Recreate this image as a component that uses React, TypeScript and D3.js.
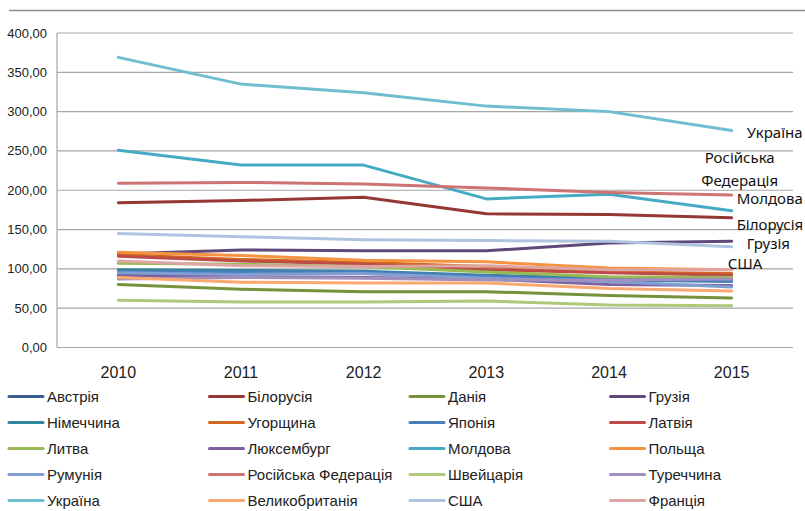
import React, { useRef, useEffect } from "react";
import * as d3 from "d3";

const years = ["2010", "2011", "2012", "2013", "2014", "2015"];
const yTicks = [0, 50, 100, 150, 200, 250, 300, 350, 400];

const countries = [
  "Австрія", "Білорусія", "Данія", "Грузія",
  "Німеччина", "Угорщина", "Японія", "Латвія",
  "Литва", "Люксембург", "Молдова", "Польща",
  "Румунія", "Російська Федерація", "Швейцарія", "Туреччина",
  "Україна", "Великобританія", "США", "Франція",
];

const colors = [
  "#3A5F8E", "#953735", "#76923C", "#5F497A",
  "#31859C", "#D2691E", "#4A7EBB", "#BE4B48",
  "#98B954", "#7D60A0", "#46AAC5", "#F69240",
  "#7F9ED1", "#CD7371", "#AFC97A", "#A18FBE",
  "#6FBDD1", "#F9A870", "#AFC3E0", "#DDA6A5",
];

const austria = [94, 94, 94, 91, 87, 85];
const belarus = [184, 187, 191, 170, 169, 165];
const denmark = [80, 74, 71, 71, 66, 63];
const georgia = [119, 124, 123, 123, 133, 135];
const germany = [99, 98, 97, 92, 88, 86];
const hungary = [118, 112, 108, 103, 96, 94];
const japan = [96, 96, 96, 91, 86, 84];
const latvia = [116, 110, 106, 99, 95, 92];
const lithuania = [107, 106, 103, 96, 90, 89];
const luxembourg = [92, 90, 89, 87, 80, 79];
const moldova = [251, 232, 232, 189, 195, 174];
const poland = [121, 117, 111, 109, 101, 99];
const romania = [95, 93, 94, 88, 84, 77];
const russia = [209, 210, 208, 203, 197, 194];
const switzerland = [60, 58, 58, 59, 54, 53];
const turkey = [87, 89, 88, 86, 86, 87];
const ukraine = [369, 335, 324, 307, 300, 276];
const uk = [89, 83, 82, 82, 75, 72];
const usa = [145, 141, 137, 136, 135, 128];
const france = [110, 104, 103, 104, 99, 99];

const seriesValues = [
  austria, belarus, denmark, georgia,
  germany, hungary, japan, latvia,
  lithuania, luxembourg, moldova, poland,
  romania, russia, switzerland, turkey,
  ukraine, uk, usa, france,
];

// end-of-line labels: series index, text lines, offset from last point
const endLabels = [
  { idx: 16, lines: ["Україна"], dx: 15, dy: 2, anchor: "start" },
  { idx: 13, lines: ["Російська", "Федерація"], dx: 8, dy: -37, anchor: "middle" },
  { idx: 10, lines: ["Молдова"], dx: 5, dy: -12, anchor: "start" },
  { idx: 1, lines: ["Білорусія"], dx: 5, dy: 7, anchor: "start" },
  { idx: 3, lines: ["Грузія"], dx: 15, dy: 2, anchor: "start" },
  { idx: 18, lines: ["США"], dx: -4, dy: 17, anchor: "start" },
];

const width = 805;
const height = 511;

const App = () => {
  const svgRef = useRef<SVGSVGElement>(null);

  useEffect(() => {
    const svg = d3.select(svgRef.current);
    svg.selectAll("*").remove();

    const left = 57, right = 793, top = 33, bottom = 347.5;

    const x = d3.scaleBand().domain(years).range([left, right]);
    const xc = (d: string) => (x(d) as number) + x.bandwidth() / 2;
    const y = d3.scaleLinear().domain([0, 400]).range([bottom, top]);

    svg.append("rect").attr("width", width).attr("height", height).attr("fill", "#fff");

    // top rule
    svg.append("line")
      .attr("x1", 9).attr("x2", width)
      .attr("y1", 10.5).attr("y2", 10.5)
      .attr("stroke", "#8c8c8c").attr("stroke-width", 1.5);

    // gridlines
    svg.append("g")
      .selectAll("line")
      .data(yTicks)
      .enter()
      .append("line")
      .attr("x1", left).attr("x2", right)
      .attr("y1", d => y(d)).attr("y2", d => y(d))
      .attr("stroke", "#a6a6a6").attr("stroke-width", 1.2);

    svg.append("line")
      .attr("x1", left).attr("x2", left)
      .attr("y1", top).attr("y2", bottom)
      .attr("stroke", "#a6a6a6").attr("stroke-width", 1.2);

    // y labels
    svg.append("g")
      .selectAll("text")
      .data(yTicks)
      .enter()
      .append("text")
      .attr("x", 47)
      .attr("y", d => y(d))
      .attr("dy", "0.35em")
      .attr("text-anchor", "end")
      .style("font-family", "'Liberation Sans', Arial, sans-serif")
      .style("font-size", "13px")
      .attr("fill", "#222")
      .text(d => d.toFixed(2).replace(".", ","));

    // x labels
    svg.append("g")
      .selectAll("text")
      .data(years)
      .enter()
      .append("text")
      .attr("x", d => xc(d))
      .attr("y", 372)
      .attr("dy", "0.35em")
      .attr("text-anchor", "middle")
      .style("font-family", "'Liberation Sans', Arial, sans-serif")
      .style("font-size", "16px")
      .attr("fill", "#222")
      .text(d => d);

    // lines
    const line = d3.line<number>()
      .x((_, i) => xc(years[i]))
      .y(d => y(d));

    svg.append("g")
      .selectAll("path")
      .data(seriesValues)
      .enter()
      .append("path")
      .attr("d", d => line(d))
      .attr("fill", "none")
      .attr("stroke", (_, i) => colors[i])
      .attr("stroke-width", 3)
      .attr("stroke-linejoin", "round")
      .attr("stroke-linecap", "round");

    // end labels
    const lbl = svg.append("g")
      .style("font-family", "'Noto Sans', 'Open Sans', sans-serif")
      .style("font-size", "15px")
      .attr("fill", "#111");
    endLabels.forEach(l => {
      const vals = seriesValues[l.idx];
      const px = xc(years[years.length - 1]);
      const py = y(vals[vals.length - 1]);
      l.lines.forEach((t, k) => {
        lbl.append("text")
          .attr("x", px + l.dx)
          .attr("y", py + l.dy + k * 23)
          .attr("dy", "0.35em")
          .attr("text-anchor", l.anchor)
          .text(t);
      });
    });

    // legend
    const legend = svg.append("g")
      .selectAll("g")
      .data(countries)
      .enter()
      .append("g")
      .attr("transform", (_, i) => `translate(${9 + (i % 4) * 200.5},${396.5 + Math.floor(i / 4) * 26})`);
    legend.append("line")
      .attr("x1", 0).attr("x2", 34)
      .attr("stroke", (_, i) => colors[i])
      .attr("stroke-width", 3)
      .attr("stroke-linecap", "round");
    legend.append("text")
      .attr("x", 38)
      .attr("dy", "0.35em")
      .style("font-family", "'Liberation Sans', Arial, sans-serif")
      .style("font-size", "15px")
      .attr("fill", "#222")
      .text(d => d);
  }, []);

  return (
    <svg
      ref={svgRef}
      width={width}
      height={height}
      style={{ position: "absolute", left: 0, top: 0 }}
    ></svg>
  );
};

export default App;
